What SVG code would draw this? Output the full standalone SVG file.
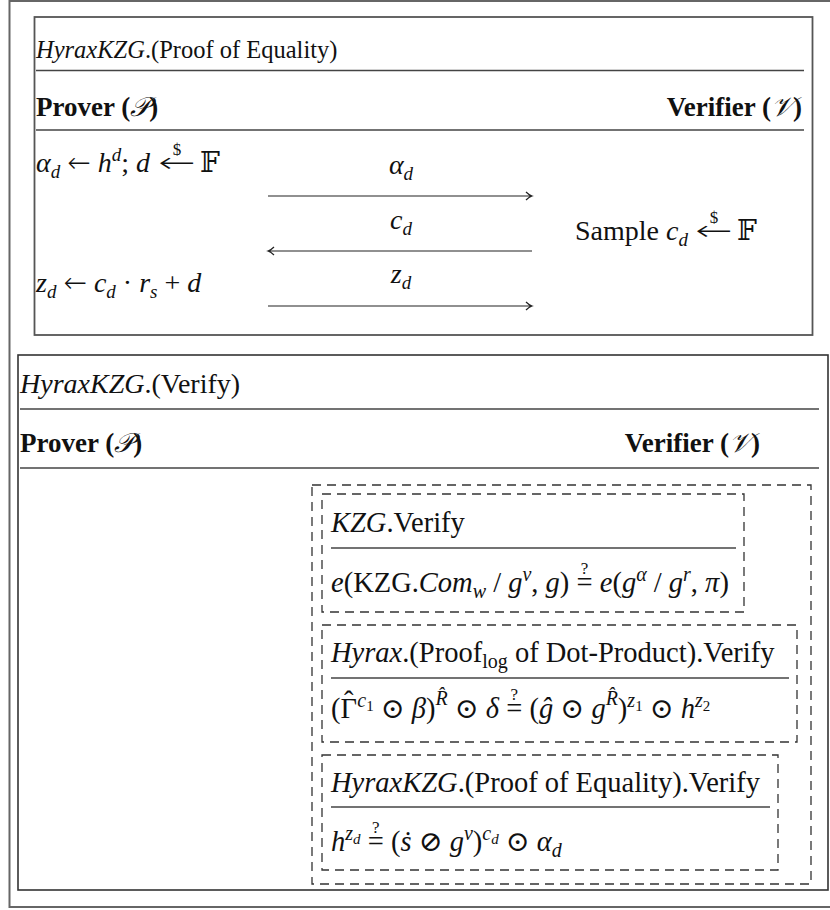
<svg xmlns="http://www.w3.org/2000/svg" width="830" height="910" viewBox="0 0 830 910">
<style>
text { font-family: "Liberation Serif", "DejaVu Serif", serif; font-size: 27px; fill: #111; }
.i { font-style: italic; }
.b { font-weight: bold; }
.n { font-weight: normal; }
.s { font-size: 19px; }
.ss { font-size: 14px; }
.q { font-size: 17px; font-style: normal; }
.ar { font-family: "DejaVu Sans", sans-serif; font-size: 28px; font-weight: 200; }
.in { font-size: 28.5px; }
.in .s { font-size: 20px; }
.in .ss { font-size: 15px; }
.frame { fill: none; stroke: #666; stroke-width: 2; }
.box { fill: none; stroke: #555; stroke-width: 1.8; }
.box2 { fill: none; stroke: #333; stroke-width: 1.6; }
.rule { stroke: #444; stroke-width: 1.5; }
.dash { fill: none; stroke: #333; stroke-width: 1.3; stroke-dasharray: 9 6; }
.arrow { stroke: #222; stroke-width: 1.2; fill: none; }
</style>

<rect class="frame" x="9.5" y="1" width="830" height="906"/>

<g id="proof-of-equality">
  <rect class="box" x="34.5" y="17" width="778" height="318"/>
  <text x="36" y="58" style="font-size:24.5px"><tspan class="i">HyraxKZG</tspan>.(Proof of Equality)</text>
  <line class="rule" x1="36" y1="70.5" x2="804" y2="70.5"/>
  <text x="36" y="116" class="b">Prover (<tspan class="i n">𝒫</tspan>)</text>
  <text x="802" y="116" class="b" text-anchor="end">Verifier (<tspan class="i n">𝒱</tspan>)</text>
  <line class="rule" x1="36" y1="130" x2="804" y2="130"/>

  <text x="36" y="172" style="font-size:28px"><tspan class="i">α</tspan><tspan class="i s" dy="6">d</tspan><tspan dy="-6"> </tspan><tspan class="ar">←</tspan> <tspan class="i">h</tspan><tspan class="i s" dy="-11">d</tspan><tspan dy="11">; </tspan><tspan class="i">d</tspan></text>
  <text class="ar" transform="translate(158 172) scale(1.6 1)">←</text>
  <text x="177" y="155" class="q" text-anchor="middle">$</text>
  <text x="200" y="172" style="font-size:28px">𝔽</text>

  <text x="401" y="174" text-anchor="middle" style="font-size:28px"><tspan class="i">α</tspan><tspan class="i s" dy="6">d</tspan></text>
  <text x="401" y="229" text-anchor="middle" style="font-size:28px"><tspan class="i">c</tspan><tspan class="i s" dy="6">d</tspan></text>
  <text x="401" y="283" text-anchor="middle" style="font-size:28px"><tspan class="i">z</tspan><tspan class="i s" dy="6">d</tspan></text>

  <text x="575" y="240" style="font-size:28px">Sample <tspan class="i">c</tspan><tspan class="i s" dy="6">d</tspan></text>
  <text class="ar" transform="translate(695 240) scale(1.6 1)">←</text>
  <text x="714" y="223" class="q" text-anchor="middle">$</text>
  <text x="737" y="240" style="font-size:28px">𝔽</text>

  <text x="36" y="292" style="font-size:28px"><tspan class="i">z</tspan><tspan class="i s" dy="6">d</tspan><tspan dy="-6"> </tspan><tspan class="ar">←</tspan> <tspan class="i">c</tspan><tspan class="i s" dy="6">d</tspan><tspan dy="-6"> · </tspan><tspan class="i">r</tspan><tspan class="i s" dy="6">s</tspan><tspan dy="-6"> + </tspan><tspan class="i">d</tspan></text>
</g>

<g id="connectors">
  <path class="arrow" d="M268,196 H532 M526,192 Q529,195 532,196 Q529,197 526,200"/>
  <path class="arrow" d="M532,251 H268 M274,247 Q271,250 268,251 Q271,252 274,255"/>
  <path class="arrow" d="M268,306 H532 M526,302 Q529,305 532,306 Q529,307 526,310"/>
</g>

<g id="verify">
  <rect class="box2" x="18" y="355" width="810" height="535"/>
  <text x="20" y="393" style="font-size:28px"><tspan class="i">HyraxKZG</tspan>.(Verify)</text>
  <line class="rule" x1="20" y1="409" x2="819" y2="409"/>
  <text x="20" y="452" class="b">Prover (<tspan class="i n">𝒫</tspan>)</text>
  <text x="760" y="452" class="b" text-anchor="end">Verifier (<tspan class="i n">𝒱</tspan>)</text>
  <line class="rule" x1="20" y1="468" x2="819" y2="468"/>
  <rect class="dash" x="312" y="485" width="499" height="399"/>
</g>

<g id="kzg-verify">
  <rect class="dash" x="322" y="494" width="422" height="118"/>
  <text x="331" y="532" class="in"><tspan class="i">KZG</tspan>.Verify</text>
  <line class="rule" x1="331" y1="548" x2="736" y2="548"/>
  <text x="331" y="592" class="in"><tspan class="i">e</tspan>(KZG.<tspan class="i">Com</tspan><tspan class="i s" dy="6">w</tspan><tspan dy="-6"> / </tspan><tspan class="i">g</tspan><tspan class="i s" dy="-11">v</tspan><tspan dy="11">, </tspan><tspan class="i">g</tspan>) =<tspan class="q" dx="-11.8" dy="-18">?</tspan><tspan dx="4.3" dy="18"> </tspan><tspan class="i">e</tspan>(<tspan class="i">g</tspan><tspan class="i s" dy="-11">α</tspan><tspan dy="11"> / </tspan><tspan class="i">g</tspan><tspan class="i s" dy="-11">r</tspan><tspan dy="11">, </tspan><tspan class="i">π</tspan>)</text>
</g>

<g id="hyrax-dot-product-verify">
  <rect class="dash" x="322" y="625" width="475" height="117"/>
  <text x="331" y="662" class="in"><tspan class="i">Hyrax</tspan>.(Proof<tspan class="s" dy="6">log</tspan><tspan dy="-6"> of Dot-Product).Verify</tspan></text>
  <line class="rule" x1="331" y1="678" x2="789" y2="678"/>
  <text x="331" y="718" class="in">(Γ<tspan dx="-13" dy="-7">ˆ</tspan><tspan class="i s" dx="3.8" dy="-4">c</tspan><tspan class="ss" dy="4">1</tspan><tspan dy="7"> ⊙ </tspan><tspan class="i">β</tspan>)<tspan class="i s" dy="-13">R̂</tspan><tspan dy="13"> ⊙ </tspan><tspan class="i">δ</tspan> =<tspan class="q" dx="-11.8" dy="-18">?</tspan><tspan dx="4.3" dy="18"> (</tspan><tspan class="i">ĝ</tspan> ⊙ <tspan class="i">g</tspan><tspan class="i s" dy="-13">R̂</tspan><tspan dy="13">)</tspan><tspan class="i s" dy="-11">z</tspan><tspan class="ss" dy="4">1</tspan><tspan dy="7"> ⊙ </tspan><tspan class="i">h</tspan><tspan class="i s" dy="-11">z</tspan><tspan class="ss" dy="4">2</tspan></text>
</g>

<g id="hyraxkzg-equality-verify">
  <rect class="dash" x="322" y="755" width="456" height="115"/>
  <text x="331" y="792" class="in"><tspan class="i">HyraxKZG</tspan>.(Proof of Equality).Verify</text>
  <line class="rule" x1="331" y1="807" x2="770" y2="807"/>
  <text x="331" y="851" class="in"><tspan class="i">h</tspan><tspan class="i s" dy="-11">z</tspan><tspan class="i ss" dy="4">d</tspan><tspan dy="7"> =</tspan><tspan class="q" dx="-11.8" dy="-18">?</tspan><tspan dx="4.3" dy="18"> (</tspan><tspan class="i">ṡ</tspan> ⊘ <tspan class="i">g</tspan><tspan class="i s" dy="-11">v</tspan><tspan dy="11">)</tspan><tspan class="i s" dy="-11">c</tspan><tspan class="i ss" dy="4">d</tspan><tspan dy="7"> ⊙ </tspan><tspan class="i">α</tspan><tspan class="i s" dy="6">d</tspan></text>
</g>
</svg>
